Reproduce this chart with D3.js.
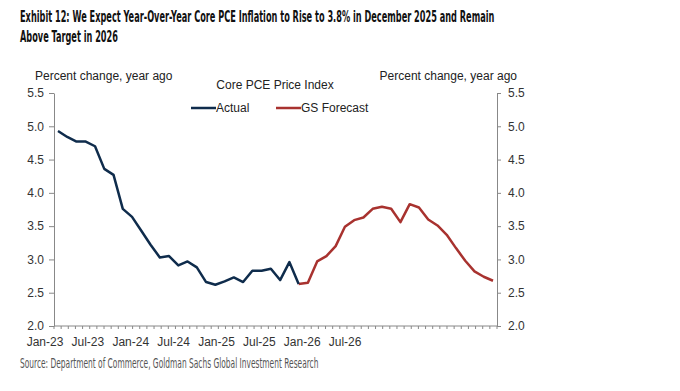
<!DOCTYPE html>
<html>
<head>
<meta charset="utf-8">
<script src="https://cdn.jsdelivr.net/npm/d3@7"></script>
<style>
  body { margin: 0; background: #fff; }
  svg { display: block; }
</style>
</head>
<body>
<div id="chart"></div>
<script>
// monthly data, Jan-23 .. Dec-26
const months = d3.range(48)
const actual = [
  4.93, 4.84, 4.77, 4.77, 4.70, 4.36, 4.27, 3.76, 3.64, 3.43, 3.22, 3.03,
  3.05, 2.91, 2.97, 2.88, 2.66, 2.62, 2.67, 2.73, 2.66, 2.83, 2.83, 2.86,
  2.69, 2.96, 2.63
]
// forecast starts at the last actual month (Mar-25)
const forecastStart = 26
const forecast = [
  2.63, 2.65, 2.97, 3.05, 3.20, 3.49, 3.59, 3.63, 3.76, 3.79, 3.76, 3.56,
  3.83, 3.78, 3.60, 3.51, 3.37, 3.17, 2.98, 2.82, 2.74, 2.68
]
const yTicks = [2.0, 2.5, 3.0, 3.5, 4.0, 4.5, 5.0, 5.5]
const xLabels = ['Jan-23', 'Jul-23', 'Jan-24', 'Jul-24', 'Jan-25', 'Jul-25', 'Jan-26', 'Jul-26']

const width = 680
const height = 391
const margin = { top: 93, left: 54, right: 183, bottom: 65 }

const svg = d3.select('#chart')
  .append('svg')
  .attr('width', width)
  .attr('height', height)

const font = 'Liberation Sans, Arial, sans-serif'
const condensed = '"Liberation Sans Narrow", "DejaVu Sans Condensed", "Roboto Condensed", sans-serif'

const xScale = d3.scaleLinear().domain([0, 47]).range([58, 493])
const yScale = d3.scaleLinear().domain([2, 5.5]).range([height - margin.bottom, margin.top])
// axis tick marks are spaced independently of the data
const tickScale = d3.scaleLinear().domain([0, 62]).range([margin.left, width - margin.right])

// squeeze a text horizontally so it spans the wanted width
function squeeze(sel, x, w) {
  const natural = sel.node().getComputedTextLength()
  const sx = w / natural
  sel.attr('x', 0).attr('transform', `translate(${x},0) scale(${sx},1)`)
}

// title
const title = svg.append('g')
  .attr('font-family', condensed)
  .attr('font-weight', 'bold')
  .attr('font-size', 16.5)
  .attr('fill', '#111')
title.append('text')
  .attr('y', 22)
  .text('Exhibit 12: We Expect Year-Over-Year Core PCE Inflation to Rise to 3.8% in December 2025 and Remain')
  .call(squeeze, 20, 475)
title.append('text')
  .attr('y', 42)
  .text('Above Target in 2026')
  .call(squeeze, 20, 98)

// axis captions
svg.append('text')
  .attr('x', 35).attr('y', 80)
  .attr('font-family', font).attr('font-size', 12).attr('fill', '#222')
  .text('Percent change, year ago')
svg.append('text')
  .attr('x', 517).attr('y', 80)
  .attr('text-anchor', 'end')
  .attr('font-family', font).attr('font-size', 12).attr('fill', '#222')
  .text('Percent change, year ago')
svg.append('text')
  .attr('x', 275).attr('y', 89)
  .attr('text-anchor', 'middle')
  .attr('font-family', font).attr('font-size', 12).attr('fill', '#222')
  .text('Core PCE Price Index')

// legend
const legend = [
  { name: 'Actual', color: '#0f2c4c', x: 191 },
  { name: 'GS Forecast', color: '#a8322f', x: 276 }
]
const lg = svg.selectAll('.legend')
  .data(legend)
  .enter()
  .append('g')
  .attr('class', 'legend')
  .attr('transform', d => `translate(${d.x},108)`)
lg.append('line')
  .attr('x1', 0).attr('x2', 25)
  .attr('stroke', d => d.color)
  .attr('stroke-width', 2.5)
lg.append('text')
  .attr('x', 25).attr('y', 4)
  .attr('font-family', font).attr('font-size', 12).attr('fill', '#222')
  .text(d => d.name)

// y axes
const fmt = d3.format('.1f')
const leftAxis = svg.append('g')
  .attr('transform', `translate(${margin.left},0)`)
  .call(d3.axisLeft(yScale).tickValues(yTicks).tickFormat(fmt).tickSize(5).tickSizeOuter(0))
const rightAxis = svg.append('g')
  .attr('transform', `translate(${width - margin.right},0)`)
  .call(d3.axisRight(yScale).tickValues(yTicks).tickFormat(fmt).tickSize(4).tickSizeOuter(0))

;[leftAxis, rightAxis].forEach(ax => {
  ax.select('.domain').attr('stroke', '#888')
  ax.selectAll('.tick line').attr('stroke', '#888')
  ax.selectAll('.tick text')
    .attr('font-family', font)
    .attr('font-size', 12)
    .attr('fill', '#333')
})
leftAxis.selectAll('.tick text').attr('x', -10)
rightAxis.selectAll('.tick text').attr('x', 11)

// x axis
const xAxis = svg.append('g')
  .attr('transform', `translate(0,${height - margin.bottom})`)
xAxis.append('line')
  .attr('x1', margin.left).attr('x2', width - margin.right)
  .attr('stroke', '#888')
xAxis.selectAll('.minor')
  .data(d3.range(63))
  .enter()
  .append('line')
  .attr('class', 'minor')
  .attr('x1', d => tickScale(d)).attr('x2', d => tickScale(d))
  .attr('y1', 0).attr('y2', 3)
  .attr('stroke', '#888')
xAxis.selectAll('.label')
  .data(xLabels)
  .enter()
  .append('text')
  .attr('class', 'label')
  .attr('x', (d, i) => tickScale(i * 6) - 9)
  .attr('y', 20)
  .attr('text-anchor', 'middle')
  .attr('font-family', font).attr('font-size', 12).attr('fill', '#333')
  .text(d => d)

// lines
const line = d3.line()
  .x(d => xScale(d[0]))
  .y(d => yScale(d[1]))

svg.append('path')
  .datum(forecast.map((v, i) => [forecastStart + i, v]))
  .attr('fill', 'none')
  .attr('stroke', '#a8322f')
  .attr('stroke-width', 2.5)
  .attr('stroke-linejoin', 'round')
  .attr('d', line)

svg.append('path')
  .datum(actual.map((v, i) => [months[i], v]))
  .attr('fill', 'none')
  .attr('stroke', '#0f2c4c')
  .attr('stroke-width', 2.5)
  .attr('stroke-linejoin', 'round')
  .attr('d', line)

// source
svg.append('text')
  .attr('y', 368)
  .attr('font-family', condensed)
  .attr('font-size', 14.5)
  .attr('fill', '#555')
  .text('Source: Department of Commerce, Goldman Sachs Global Investment Research')
  .call(squeeze, 20, 299)
</script>
</body>
</html>
